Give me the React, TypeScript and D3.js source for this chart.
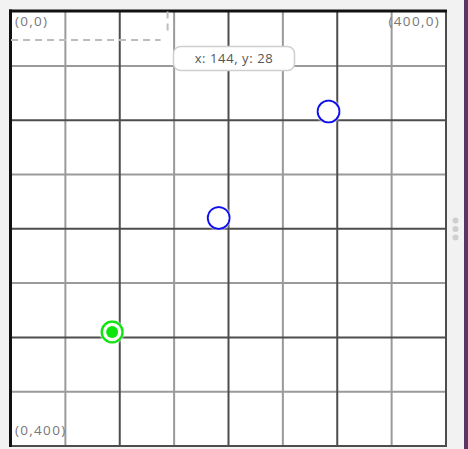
import React from "react";
import * as d3 from "d3";

// canvas coordinates of the points (0..400 on both axes)
const pointX = [292, 191, 93];
const pointY = [92, 190, 295];
const pointKind = ["open", "open", "active"];

const gridValues = [0, 50, 100, 150, 200, 250, 300, 350, 400];
const cornerLabels = ["(0,0)", "(400,0)", "(0,400)"];
const cursor = { x: 144, y: 28 };

const W = 468;
const H = 449;
const font = "'Open Sans', sans-serif";

const App = () => {
  const x = d3.scaleLinear().domain([0, 400]).range([11, 446]);
  const y = d3.scaleLinear().domain([0, 400]).range([11.6, 446]);

  const tipText = `x: ${cursor.x}, y: ${cursor.y}`;
  const tipCx = 234;

  return (
    <svg
      width={W}
      height={H}
      style={{ position: "fixed", left: 0, top: 0, background: "#f2f2f2" }}
    >
      <defs>
        <filter id="halo" x="-50%" y="-50%" width="200%" height="200%">
          <feDropShadow dx="0" dy="0" stdDeviation="1.2" floodColor="#ffffff" floodOpacity="1" />
        </filter>
      </defs>

      <rect x={x(0)} y={y(0)} width={x(400) - x(0)} height={y(400) - y(0)} fill="#fff" />

      {/* minor lines */}
      {gridValues.filter((v) => v % 100 !== 0).map((v) => (
        <g key={"m" + v}>
          <line x1={x(v)} x2={x(v)} y1={y(0)} y2={y(400)} stroke="#9a9a9a" strokeWidth={2} />
          <line x1={x(0)} x2={x(400)} y1={y(v)} y2={y(v)} stroke="#9a9a9a" strokeWidth={2} />
        </g>
      ))}
      {/* major lines */}
      {gridValues.filter((v) => v % 100 === 0 && v > 0).map((v) => (
        <g key={"M" + v}>
          <line x1={x(v)} x2={x(v)} y1={y(0)} y2={y(400) + 1} stroke="#4d4d4d" strokeWidth={2} />
          <line x1={x(0)} x2={x(400) + 1} y1={y(v)} y2={y(v)} stroke="#4d4d4d" strokeWidth={2} />
        </g>
      ))}
      {/* top / left border */}
      <line x1={x(0) - 2} x2={x(400) + 1} y1={y(0) - 0.5} y2={y(0) - 0.5} stroke="#111" strokeWidth={3} />
      <line x1={x(0) - 0.5} x2={x(0) - 0.5} y1={y(0) - 2} y2={y(400) + 1} stroke="#111" strokeWidth={3} />

      {/* selection rectangle to the cursor */}
      <path
        d={`M${x(0)},${y(cursor.y) - 2}H${x(cursor.x) - 7}M${x(cursor.x)},${y(0)}V${y(cursor.y) - 9}`}
        fill="none"
        stroke="#bdbdbd"
        strokeWidth={2}
        strokeDasharray="7,5"
      />

      {/* corner labels */}
      <g fontFamily={font} fontSize={13.5} fill="#777" letterSpacing={1.3}>
        <text x={x(0) + 4} y={y(0) + 14}>{cornerLabels[0]}</text>
        <text x={x(400) - 6} y={y(0) + 14} textAnchor="end">{cornerLabels[1]}</text>
        <text x={x(0) + 4} y={y(400) - 11}>{cornerLabels[2]}</text>
      </g>

      {/* tooltip */}
      <rect x={tipCx - 60.5} y={46.5} width={121} height={24} rx={7} fill="#fff" stroke="#cfcfcf" strokeWidth={1.5} />
      <text x={tipCx} y={62.5} textAnchor="middle" fontFamily={font} fontSize={13} fill="#555" letterSpacing={0.6}>
        {tipText}
      </text>

      {/* points */}
      {pointX.map((px, i) => (
        <g key={i} filter="url(#halo)">
          {pointKind[i] === "active" ? (
            <>
              <circle cx={x(px)} cy={y(pointY[i])} r={10.5} fill="#fff" stroke="#11e611" strokeWidth={2.5} />
              <circle cx={x(px)} cy={y(pointY[i])} r={6} fill="#11e611" />
            </>
          ) : (
            <circle cx={x(px)} cy={y(pointY[i])} r={11} fill="#fff" stroke="#1010ee" strokeWidth={2} />
          )}
        </g>
      ))}

      {/* side handle */}
      {[220.5, 229, 237.5].map((cy) => (
        <circle key={cy} cx={455.5} cy={cy} r={3} fill="#cfcfcf" />
      ))}
      <rect x={464} y={0} width={4} height={H} fill="#5b3563" />
    </svg>
  );
};

export default App;
